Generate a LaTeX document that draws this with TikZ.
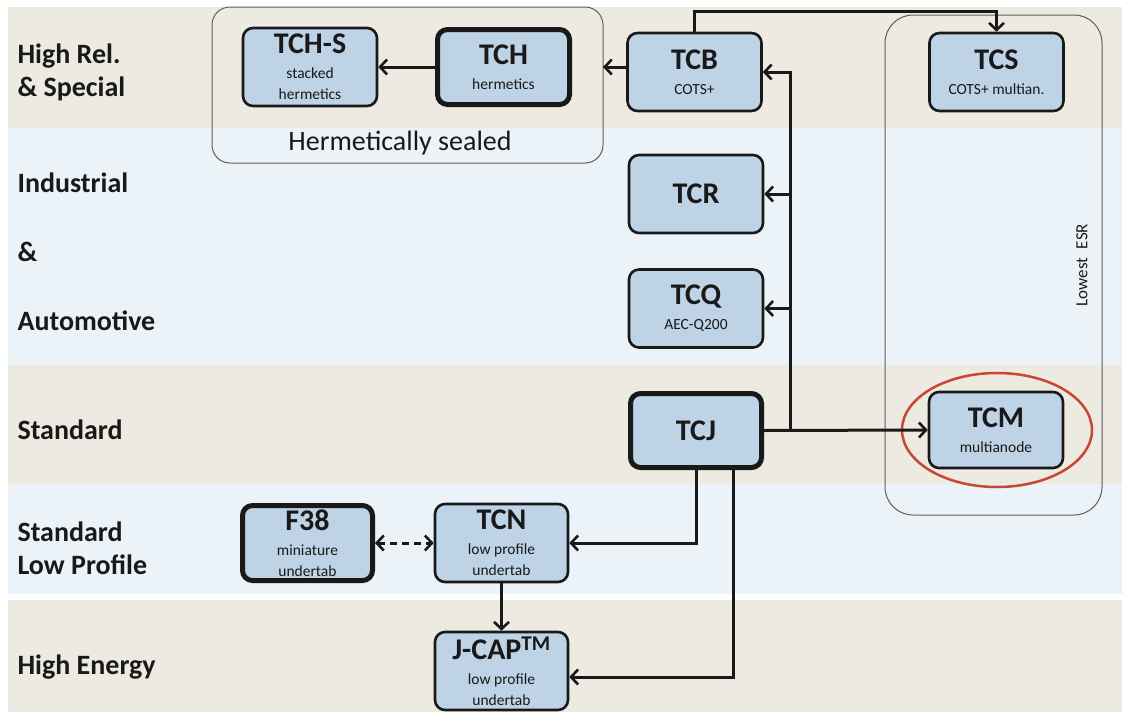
\documentclass[tikz,border=0pt]{standalone}
\usepackage{fontspec}
\setmainfont{Carlito}
\usetikzlibrary{arrows.meta,shapes.geometric}
\definecolor{bandA}{RGB}{237,234,225}
\definecolor{bandB}{RGB}{235,243,248}
\definecolor{boxfill}{RGB}{190,211,229}
\definecolor{ink}{RGB}{25,25,25}
\definecolor{redring}{RGB}{200,70,50}
\tikzset{
  mybarb/.tip={Straight Barb[length=7pt,width=15pt,line width=2.6pt]},
  prod/.style={draw=ink, fill=boxfill, rounded corners=10pt, line width=2.6pt,
    minimum width=134pt, minimum height=78pt, align=center, inner sep=1pt, text=ink,
    font=\fontsize{15.5}{21}\selectfont},
  key/.style={prod, line width=5pt},
  arr/.style={draw=ink, line width=3pt, -mybarb},
  rowlab/.style={anchor=west, font=\fontsize{28}{33}\selectfont\bfseries, text=ink, align=left},
  grp/.style={draw=ink!70, line width=1pt, rounded corners=18pt},
}
\newcommand{\bxttl}[1]{{\fontsize{30}{30}\selectfont\bfseries #1}}
\begin{document}
\begin{tikzpicture}[x=1pt,y=-1pt]
\useasboundingbox (0,0) rectangle (1122,715);
\fill[white] (0,0) rectangle (1122,715);
% bands
\fill[bandA] (8,7) rectangle (1122,128);
\fill[bandB] (8,128) rectangle (1122,365);
\fill[bandA] (8,365) rectangle (1122,484);
\fill[bandB] (8,484) rectangle (1122,594);
\fill[bandA] (8,600) rectangle (1122,712);
% row labels
\node[rowlab] (l1) at (14,72) {High Rel.\\\& Special};
\node[rowlab] (l2) at (14,183) {Industrial};
\node[rowlab] (l3) at (14,252) {\&};
\node[rowlab] (l4) at (14,321) {Automotive};
\node[rowlab] (l5) at (14,430) {Standard};
\node[rowlab] (l6) at (14,548) {Standard\\Low Profile};
\node[rowlab] (l7) at (14,667) {High Energy};
% groups
\draw[grp] (212,7) rectangle (603,163);
\coordinate (hermE) at (603,67);
\node[font=\fontsize{28}{28}\selectfont, text=ink] (hs) at (400,143) {Hermetically sealed};
\draw[grp, rounded corners=28pt] (885,15) rectangle (1102,515);
\node[rotate=90, font=\fontsize{17}{17}\selectfont, text=ink] (esr) at (1082,265) {Lowest\enspace ESR};
% product boxes
\node[prod] (tchs) at (310,67) {\bxttl{TCH-S}\\[4pt]stacked\\hermetics};
\node[key, minimum width=132pt, minimum height=75pt] (tch) at (503.5,67) {\bxttl{TCH}\\[4pt]hermetics};
\node[prod] (tcb) at (694.5,72) {\bxttl{TCB}\\[4pt]COTS+};
\node[prod] (tcs) at (996.5,72) {\bxttl{TCS}\\[4pt]COTS+ multian.};
\node[prod] (tcr) at (696,194) {\bxttl{TCR}};
\node[prod] (tcq) at (696,308.5) {\bxttl{TCQ}\\[4pt]AEC-Q200};
\node[key, minimum width=131pt, minimum height=74pt] (tcj) at (696,430.5) {\bxttl{TCJ}};
\node[prod, minimum height=76pt] (tcm) at (996,430) {\bxttl{TCM}\\[4pt]multianode};
\node[key, minimum width=130pt, minimum height=75pt] (f38) at (307.5,543) {\bxttl{F38}\\[4pt]miniature\\undertab};
\node[prod, minimum width=133pt] (tcn) at (501.5,543) {\bxttl{TCN}\\[4pt]low profile\\undertab};
\node[prod, minimum width=133pt] (jcap) at (501.5,671) {\bxttl{J-CAP\textsuperscript{TM}}\\[4pt]low profile\\undertab};
% red ring
\draw[redring, line width=2.5pt] (997,430) ellipse [x radius=95, y radius=57];
% connectors
\draw[arr] (tch.west) -- (tchs.east);
\draw[arr] (tcb.west |- hermE) -- (hermE);
\draw[arr] (tcb.north) -- ++(0,-20) -| (tcs.north);
\coordinate (jn) at (790,430.5);
\draw[arr] (tcj.east) -- (tcm.west);
\draw[arr] (jn) |- (tcb.east);
\draw[arr] (jn |- tcr.east) -- (tcr.east);
\draw[arr] (jn |- tcq.east) -- (tcq.east);
\draw[arr] (tcj.south) |- (tcn.east);
\draw[arr] ([xshift=37pt]tcj.south) |- ([yshift=-6pt]jcap.east);
\draw[arr] (tcn.south) -- (jcap.north);
\draw[draw=ink, line width=3pt, dash pattern=on 7pt off 5pt, mybarb-mybarb] (f38.east) -- (tcn.west);
\end{tikzpicture}
\end{document}
